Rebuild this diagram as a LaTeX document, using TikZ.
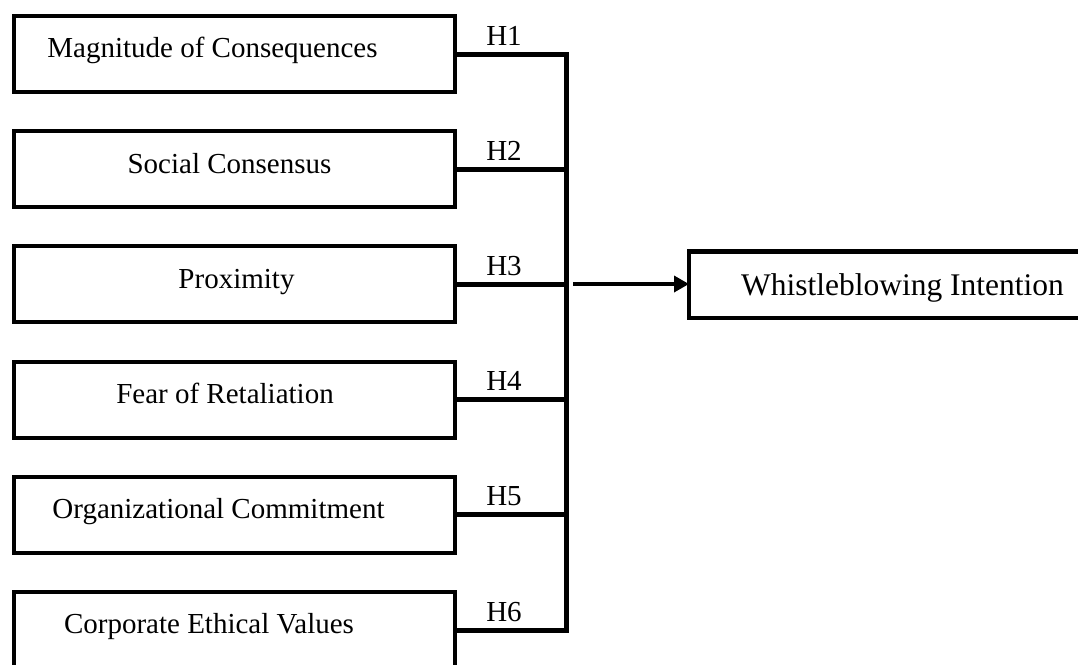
\documentclass[tikz,border=0pt]{standalone}
\usepackage{fontspec}
\setmainfont{Liberation Serif}
\usetikzlibrary{arrows.meta}
\tikzset{
  factor/.style={draw=black,line width=4pt,minimum width=441pt,minimum height=76pt,
    inner sep=0pt,outer sep=0pt,anchor=north west},
  outcome/.style={draw=black,line width=4.5pt,minimum width=420pt,minimum height=66.5pt,
    inner sep=0pt,outer sep=0pt,anchor=north west},
  ftext/.style={anchor=base,inner sep=0pt,font=\fontsize{29}{34}\selectfont},
  otext/.style={anchor=base,inner sep=0pt,font=\fontsize{31.5}{36}\selectfont},
  hlabel/.style={anchor=base,inner sep=0pt,font=\fontsize{29}{34}\selectfont},
  link/.style={line width=5pt,line join=miter},
  arrowline/.style={line width=3.5pt,-{Triangle[length=15pt,width=16pt]}}
}
\begin{document}
\begin{tikzpicture}[x=1pt,y=-1pt]
\useasboundingbox (0,0) rectangle (1078,664);
\clip (0,0) rectangle (1078,664);

% factor boxes
\node[factor] (b1) at (14,16) {};
\node[factor] (b2) at (14,131.2) {};
\node[factor] (b3) at (14,246.4) {};
\node[factor] (b4) at (14,361.6) {};
\node[factor] (b5) at (14,476.8) {};
\node[factor] (b6) at (14,592) {};

% box texts
\node[ftext] (t1) at (212.5,57.5) {Magnitude of Consequences};
\node[ftext] (t2) at (229.5,173) {Social Consensus};
\node[ftext] (t3) at (236.5,288) {Proximity};
\node[ftext] (t4) at (225,403.4) {Fear of Retaliation};
\node[ftext] (t5) at (218.5,518.6) {Organizational Commitment};
\node[ftext] (t6) at (209,633.8) {Corporate Ethical Values};

% outcome box
\node[outcome] (w) at (689,251.5) {};
\node[otext] (wt) at (902.5,295) {Whistleblowing Intention};

% collector bar
\coordinate (bt) at (566,54);
\coordinate (bb) at (566,630);
\draw[link] (b1.east) -- (bt) -- (bb) -- (b6.east);
\draw[link] (b2.east) -- (b2.east -| bt);
\draw[link] (b3.east) -- (b3.east -| bt);
\draw[link] (b4.east) -- (b4.east -| bt);
\draw[link] (b5.east) -- (b5.east -| bt);

% hypothesis labels
\node[hlabel] (h1) at (504,45) {H1};
\node[hlabel] (h2) at (504,160.2) {H2};
\node[hlabel] (h3) at (504,275.4) {H3};
\node[hlabel] (h4) at (504,390.6) {H4};
\node[hlabel] (h5) at (504,505.8) {H5};
\node[hlabel] (h6) at (504,621) {H6};

% arrow
\coordinate (a0) at (573,284);
\draw[arrowline] (a0) -- (a0 -| w.west);
\end{tikzpicture}
\end{document}
